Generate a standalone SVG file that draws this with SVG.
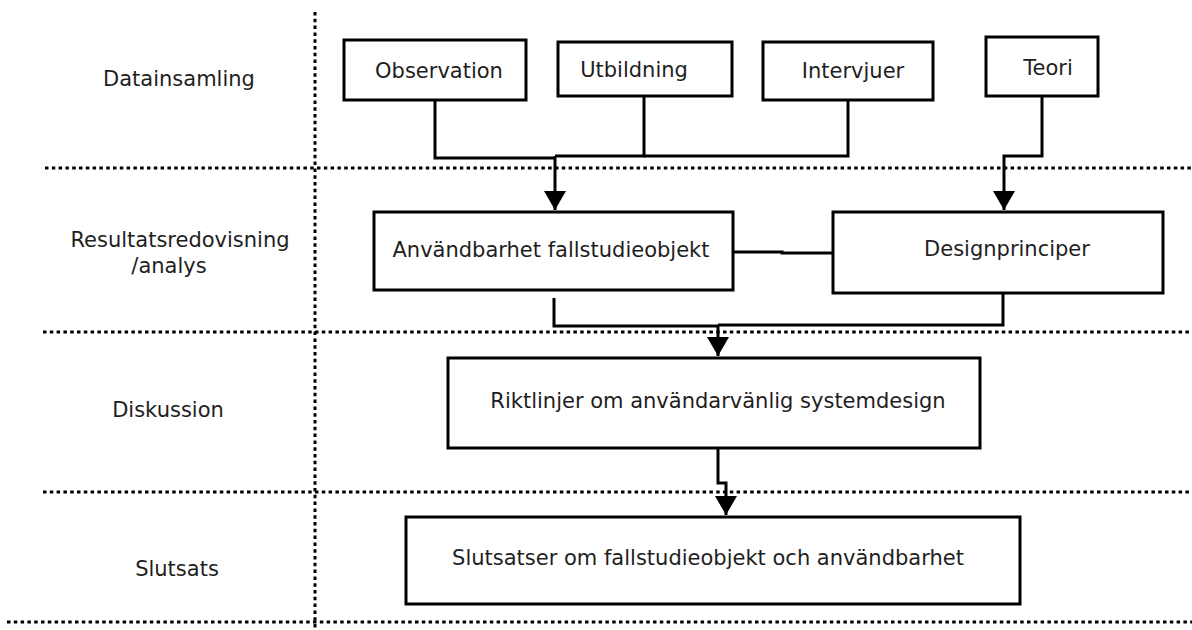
<svg xmlns="http://www.w3.org/2000/svg" width="1192" height="630" viewBox="0 0 1192 630">
<defs>
<style>
.dot{stroke:#000;stroke-width:3;stroke-dasharray:3.5 3.3;fill:none}
.box{fill:#fff;stroke:#000;stroke-width:3}
.ln{fill:none;stroke:#000;stroke-width:3}
text{font-family:"DejaVu Sans","Liberation Sans",sans-serif;font-size:21px;fill:#1e1e1e;text-anchor:middle}
</style>
<marker id="ah" markerUnits="userSpaceOnUse" markerWidth="20" markerHeight="24" refX="19" refY="11" orient="auto">
<path d="M0,0 L19,11 L0,22 z" fill="#000"/>
</marker>
</defs>
<rect width="1192" height="630" fill="#fff"/>
<g id="grid">
<line class="dot" x1="315" y1="12" x2="315" y2="630"/>
<line class="dot" x1="45" y1="168" x2="1192" y2="168"/>
<line class="dot" x1="43" y1="332" x2="1192" y2="332"/>
<line class="dot" x1="43" y1="492" x2="1192" y2="492"/>
<line class="dot" x1="7" y1="622" x2="1192" y2="622"/>
</g>
<g id="labels">
<text x="179" y="86">Datainsamling</text>
<text x="180" y="247">Resultatsredovisning</text>
<text x="169" y="273">/analys</text>
<text x="168" y="417">Diskussion</text>
<text x="177" y="576">Slutsats</text>
</g>
<g id="connectors">
<path class="ln" d="M435,100 V158 H555"/>
<path class="ln" d="M644,96 V156 H555"/>
<path class="ln" d="M848,100 V156 H644"/>
<path class="ln" d="M555,156 V210" marker-end="url(#ah)"/>
<path class="ln" d="M1042,96 V156 H1004 V210" marker-end="url(#ah)"/>
<path class="ln" d="M733,252 H782 V253 H833"/>
<path class="ln" d="M554,298 V326 H718"/>
<path class="ln" d="M1003,293 V325 H718"/>
<path class="ln" d="M718,325 V356" marker-end="url(#ah)"/>
<path class="ln" d="M718,448 V483 H726 V515" marker-end="url(#ah)"/>
</g>
<g id="n-observation"><rect class="box" x="344" y="40" width="182" height="60"/><text x="439" y="78">Observation</text></g>
<g id="n-utbildning"><rect class="box" x="558" y="42" width="174" height="54"/><text x="634" y="77">Utbildning</text></g>
<g id="n-intervjuer"><rect class="box" x="763" y="42" width="170" height="58"/><text x="853" y="78">Intervjuer</text></g>
<g id="n-teori"><rect class="box" x="986" y="37" width="112" height="59"/><text x="1048" y="75">Teori</text></g>
<g id="n-anvandbarhet"><rect class="box" x="374" y="212" width="359" height="78"/><text x="551" y="257">Användbarhet fallstudieobjekt</text></g>
<g id="n-designprinciper"><rect class="box" x="833" y="212" width="330" height="81"/><text x="1007" y="256">Designprinciper</text></g>
<g id="n-riktlinjer"><rect class="box" x="448" y="358" width="532" height="90"/><text x="718" y="408">Riktlinjer om användarvänlig systemdesign</text></g>
<g id="n-slutsatser"><rect class="box" x="406" y="517" width="614" height="87"/><text x="708" y="565">Slutsatser om fallstudieobjekt och användbarhet</text></g>
</svg>
